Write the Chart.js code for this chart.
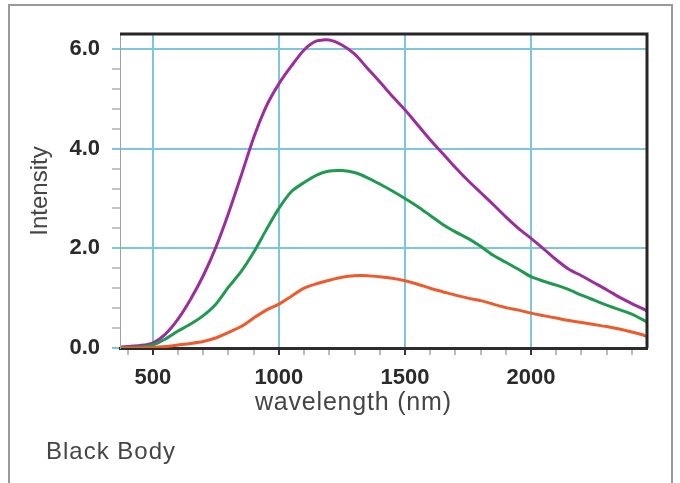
<!DOCTYPE html>
<html>
<head>
<meta charset="utf-8">
<script src="https://cdn.jsdelivr.net/npm/chart.js@4.4.1/dist/chart.umd.min.js"></script>
<style>
    html, body { margin: 0; padding: 0; background: #fff; }
    #wrap { position: relative; width: 680px; height: 483px; overflow: hidden; }
    #frame {
        position: absolute; left: 8px; top: 4px; width: 665px; height: 500px;
        border: 2px solid #9a9a9a; box-sizing: border-box;
    }
    #chart { position: absolute; left: 0; top: 0; }
    .label {
        position: absolute; font-family: "Liberation Sans", Arial, sans-serif;
        color: #454545; white-space: nowrap;
    }
    #x_title { left: 255px; top: 387px; font-size: 25px; letter-spacing: 0.8px; }
    #caption { left: 46px; top: 437px; font-size: 24px; letter-spacing: 1px; }
</style>
</head>
<body>
<div id="wrap">
    <div id="frame"></div>
    <canvas id="chart" width="680" height="483"></canvas>
    <div class="label" id="x_title">wavelength (nm)</div>
    <div class="label" id="caption">Black Body</div>
</div>
<script>
// wavelength samples (nm)
const wavelengths = [375, 400, 450, 500, 550, 600, 650, 700, 750, 800, 850, 900, 950, 1000,
    1050, 1100, 1150, 1200, 1250, 1300, 1350, 1400, 1450, 1500, 1550, 1600, 1650, 1700,
    1750, 1800, 1850, 1900, 1950, 2000, 2050, 2100, 2150, 2200, 2250, 2300, 2350, 2400, 2450, 2460];

// intensities
const purpleValues = [0.02, 0.03, 0.05, 0.10, 0.28, 0.58, 0.98, 1.45, 2.02, 2.70, 3.45, 4.22, 4.85, 5.30,
    5.66, 5.98, 6.16, 6.18, 6.08, 5.90, 5.62, 5.34, 5.05, 4.78, 4.48, 4.18, 3.90, 3.62,
    3.36, 3.12, 2.88, 2.63, 2.40, 2.20, 1.99, 1.77, 1.58, 1.45, 1.31, 1.17, 1.02, 0.89, 0.77, 0.74];
const greenValues = [0.01, 0.01, 0.02, 0.06, 0.18, 0.34, 0.48, 0.65, 0.88, 1.22, 1.53, 1.92, 2.37, 2.80,
    3.14, 3.32, 3.47, 3.55, 3.56, 3.52, 3.42, 3.29, 3.15, 3.00, 2.84, 2.66, 2.48, 2.33,
    2.20, 2.04, 1.86, 1.72, 1.58, 1.43, 1.34, 1.26, 1.17, 1.06, 0.96, 0.86, 0.77, 0.68, 0.55, 0.52];
const orangeValues = [0.00, 0.00, 0.00, 0.01, 0.03, 0.06, 0.09, 0.13, 0.20, 0.31, 0.43, 0.60, 0.76, 0.88,
    1.04, 1.20, 1.29, 1.36, 1.42, 1.45, 1.45, 1.43, 1.40, 1.35, 1.28, 1.20, 1.13, 1.06,
    1.00, 0.95, 0.88, 0.81, 0.76, 0.70, 0.65, 0.60, 0.55, 0.51, 0.47, 0.43, 0.38, 0.32, 0.25, 0.22];

// axis ticks
const xMajorTicks = [500, 1000, 1500, 2000];
const xMinorTicks = [400, 600, 700, 800, 900, 1100, 1200, 1300, 1400, 1600, 1700, 1800, 1900,
    2100, 2200, 2300, 2400];
const yMajorTicks = [0, 2, 4, 6];
const yTickLabels = ["0.0", "2.0", "4.0", "6.0"];
const yMinorTicks = [0.4, 0.8, 1.2, 1.6, 2.4, 2.8, 3.2, 3.6, 4.4, 4.8, 5.2, 5.6];

const GRID_BLUE = "#7cc8da";
const TICK_FONT = { family: "'Liberation Sans', Arial, sans-serif", size: 22, weight: "bold" };

function toPoints(values) {
    return wavelengths.map((w, i) => ({ x: w, y: values[i] }));
}

function lineSet(values, color) {
    return {
        data: toPoints(values),
        borderColor: color,
        borderWidth: 3,
        pointRadius: 0,
        tension: 0.25,
        fill: false,
    };
}

function tickList(major, minor) {
    return major.concat(minor).sort((a, b) => a - b).map((v) => ({ value: v }));
}

const frameBorders = {
    id: "frameBorders",
    afterDraw(chart) {
        const { ctx, chartArea } = chart;
        ctx.save();
        ctx.strokeStyle = "#262626";
        ctx.lineWidth = 3;
        ctx.beginPath();
        ctx.moveTo(chartArea.left, chartArea.top);
        ctx.lineTo(chartArea.right, chartArea.top);
        ctx.lineTo(chartArea.right, chartArea.bottom);
        ctx.stroke();
        ctx.restore();
    },
};

new Chart(document.getElementById("chart"), {
    type: "line",
    data: {
        datasets: [
            lineSet(orangeValues, "#ee5a2c"),
            lineSet(greenValues, "#1f9a50"),
            lineSet(purpleValues, "#9b2d9c"),
        ],
    },
    options: {
        responsive: false,
        animation: false,
        layout: { padding: { top: 34, right: 33, left: 0, bottom: 0 } },
        plugins: { legend: { display: false }, tooltip: { enabled: false } },
        scales: {
            x: {
                type: "linear",
                min: 370,
                max: 2460,
                afterBuildTicks: (scale) => { scale.ticks = tickList(xMajorTicks, xMinorTicks); },
                afterFit: (scale) => { scale.height = 135; },
                border: { color: "#2c2c2c", width: 3 },
                grid: {
                    color: (ctx) => xMajorTicks.includes(ctx.tick && ctx.tick.value) ? GRID_BLUE : "rgba(0,0,0,0)",
                    tickColor: (ctx) => xMajorTicks.includes(ctx.tick && ctx.tick.value) ? "#333" : "#bbb",
                    lineWidth: 2,
                    tickLength: 7,
                },
                ticks: {
                    autoSkip: false,
                    maxRotation: 0,
                    padding: 10,
                    color: "#2a2a2a",
                    font: TICK_FONT,
                    callback: (v) => xMajorTicks.includes(v) ? String(v) : "",
                },
            },
            y: {
                min: 0,
                max: 6.3,
                afterBuildTicks: (scale) => { scale.ticks = tickList(yMajorTicks, yMinorTicks); },
                afterFit: (scale) => { scale.width = 120; },
                border: { color: "#a0a0a0", width: 1 },
                grid: {
                    color: (ctx) => yMajorTicks.includes(ctx.tick && ctx.tick.value) ? GRID_BLUE : "rgba(0,0,0,0)",
                    tickColor: (ctx) => yMajorTicks.includes(ctx.tick && ctx.tick.value) ? GRID_BLUE : "#c4c4c4",
                    lineWidth: 2,
                    tickLength: 8,
                },
                ticks: {
                    autoSkip: false,
                    padding: 12,
                    color: "#2a2a2a",
                    font: TICK_FONT,
                    callback: (v) => {
                        const i = yMajorTicks.indexOf(v);
                        return i >= 0 ? yTickLabels[i] : "";
                    },
                },
                title: {
                    display: true,
                    text: "Intensity",
                    color: "#454545",
                    font: { family: "'Liberation Sans', Arial, sans-serif", size: 24 },
                    padding: { top: 26, bottom: 0 },
                },
            },
        },
    },
    plugins: [frameBorders],
});
</script>
</body>
</html>
